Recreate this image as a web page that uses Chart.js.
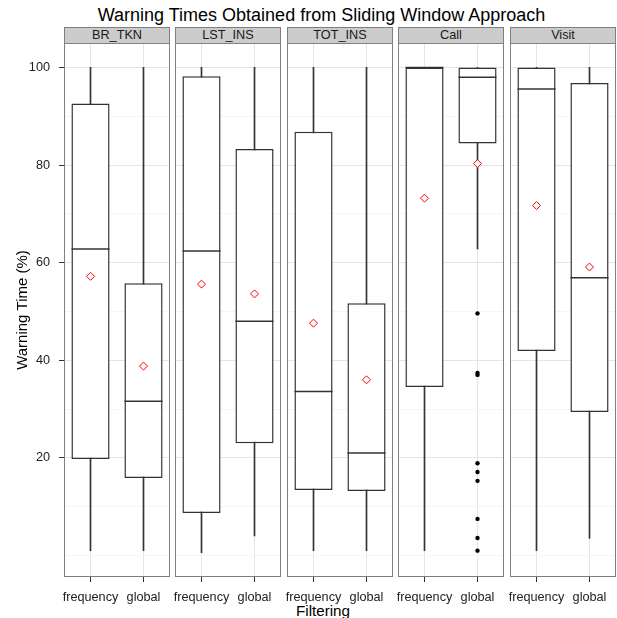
<!DOCTYPE html>
<html>
<head>
<meta charset="utf-8">
<script src="https://cdn.jsdelivr.net/npm/chart.js@4"></script>
<style>
body { margin: 0; width: 617px; height: 618px; overflow: hidden; background: #fff; position: relative;
       font-family: "Liberation Sans", Arial, sans-serif; }
.txt { position: absolute; text-align: center; white-space: nowrap; }
.strip { position: absolute; top: 27px; height: 17px; box-sizing: border-box; background: #cccccc;
         border: 1px solid #7f7f7f; text-align: center; font-size: 12.7px; line-height: 15px; color: #1a1a1a; }
canvas { position: absolute; }
</style>
</head>
<body>
<div class="txt" style="left:0;width:643px;top:5.5px;font-size:18px;line-height:18px;color:#000">Warning Times Obtained from Sliding Window Approach</div>
<div class="txt" style="left:0;width:646px;top:603px;font-size:15.2px;line-height:15px;color:#000">Filtering</div>
<script>
// facets and groups
const panels = ['BR_TKN', 'LST_INS', 'TOT_INS', 'Call', 'Visit'];
const filters = ['frequency', 'global'];

// box stats per panel: [frequency, global]
const whiskerLow  = [[1.0, 1.0], [0.6, 4.0], [1.0, 1.0], [1.0, 62.8], [1.0, 3.5]];
const q1          = [[19.8, 15.9], [8.7, 23.0], [13.4, 13.2], [34.5, 84.4], [41.9, 29.4]];
const median      = [[62.8, 31.6], [62.4, 48.0], [33.6, 21.0], [100, 98.0], [95.6, 56.9]];
const q3          = [[92.6, 55.8], [98.2, 83.3], [86.8, 51.7], [100, 100], [100, 96.8]];
const whiskerHigh = [[100, 100], [100, 100], [100, 100], [100, 100], [100, 100]];
const means       = [[57.2, 38.8], [55.6, 53.6], [47.6, 36.0], [73.2, 80.3], [71.7, 59.1]];
const outliers    = [[[], []], [[], []], [[], []],
                     [[], [49.6, 37.4, 37.0, 18.9, 17.1, 15.3, 7.5, 3.6, 1.0]], [[], []]];

const yGridValues = [0, 10, 20, 30, 40, 50, 60, 70, 80, 90, 100];
const yLabelValues = [20, 40, 60, 80, 100];

const FONT = '"Liberation Sans", Arial, sans-serif';
const panelLeft = [64, 175, 287, 398, 510];
const panelW = 106;
const pageW = 617;

const panelBorder = {
    id: 'panelBorder',
    afterDraw(chart) {
        const { ctx, chartArea: a } = chart;
        ctx.save();
        ctx.strokeStyle = '#7f7f7f';
        ctx.lineWidth = 1;
        ctx.strokeRect(a.left + 0.5, a.top + 0.5, a.width - 1, a.height - 1);
        ctx.restore();
    }
};

panels.forEach((name, k) => {
    const first = k === 0;

    const strip = document.createElement('div');
    strip.className = 'strip';
    strip.style.left = panelLeft[k] + 'px';
    strip.style.width = panelW + 'px';
    strip.textContent = name;
    document.body.appendChild(strip);

    // keep every canvas inside the page
    const padL = first ? 0 : 6;
    const padR = Math.min(6, pageW - panelLeft[k] - panelW);
    const cv = document.createElement('canvas');
    const left = first ? 0 : panelLeft[k] - padL;
    const width = (first ? panelLeft[0] : padL) + panelW + padR;
    cv.width = width;
    cv.height = 598;
    cv.style.left = left + 'px';
    cv.style.top = '20px';
    document.body.appendChild(cv);

    const pts = arr => filters.map((f, i) => ({ x: f, y: arr[k][i] }));
    const outPts = [];
    filters.forEach((f, i) => outliers[k][i].forEach(v => outPts.push({ x: f, y: v })));

    const datasets = [
        {
            label: 'whisker',
            data: filters.map((f, i) => [whiskerLow[k][i], whiskerHigh[k][i]]),
            backgroundColor: '#333333',
            barThickness: 1,
            grouped: false,
            order: 4
        },
        {
            label: 'box',
            data: filters.map((f, i) => [q1[k][i], q3[k][i]]),
            backgroundColor: '#ffffff',
            borderColor: '#333333',
            borderWidth: 1.5,
            borderSkipped: false,
            barPercentage: 0.72,
            categoryPercentage: 1,
            grouped: false,
            order: 3
        },
        {
            type: 'scatter',
            label: 'median',
            data: pts(median),
            pointStyle: 'line',
            pointRadius: 19,
            pointBorderWidth: 1.5,
            pointBorderColor: '#333333',
            pointBackgroundColor: '#333333',
            order: 2
        },
        {
            type: 'scatter',
            label: 'mean',
            data: pts(means),
            pointStyle: 'rectRot',
            pointRadius: 4,
            pointBorderWidth: 1,
            pointBorderColor: '#ff0000',
            pointBackgroundColor: '#ffffff',
            order: 1
        }
    ];
    if (outPts.length) {
        datasets.push({
            type: 'scatter',
            label: 'outliers',
            data: outPts,
            pointStyle: 'circle',
            pointRadius: 2.2,
            pointBorderWidth: 0,
            pointBorderColor: '#000000',
            pointBackgroundColor: '#000000',
            order: 0
        });
    }

    new Chart(cv, {
        type: 'bar',
        data: { labels: filters, datasets: datasets },
        options: {
            responsive: false,
            animation: false,
            events: [],
            layout: { autoPadding: false, padding: { top: 23, bottom: 0, left: padL, right: padR } },
            plugins: { legend: { display: false }, tooltip: { enabled: false } },
            scales: {
                x: {
                    type: 'category',
                    offset: true,
                    grid: { offset: false, color: '#e5e5e5', tickColor: '#333333', tickLength: 5, drawTicks: true },
                    border: { display: false },
                    ticks: {
                        font: { family: FONT, size: 12.7 }, color: '#222222',
                        padding: 8, maxRotation: 0, minRotation: 0, autoSkip: false
                    },
                    afterFit(scale) {
                        scale.height = 41;
                        scale.paddingLeft = 0;
                        scale.paddingRight = 0;
                    }
                },
                y: {
                    type: 'linear',
                    min: -4.4,
                    max: 105,
                    afterBuildTicks(scale) { scale.ticks = yGridValues.map(v => ({ value: v })); },
                    grid: {
                        color: c => yLabelValues.includes(c.tick.value) ? '#e5e5e5' : '#f5f5f5',
                        tickColor: c => yLabelValues.includes(c.tick.value) ? '#333333' : 'rgba(0,0,0,0)',
                        tickLength: 5,
                        drawTicks: first
                    },
                    border: { display: false },
                    ticks: {
                        display: first,
                        font: { family: FONT, size: 12.7 }, color: '#222222',
                        padding: 9,
                        callback: v => yLabelValues.includes(v) ? v : ''
                    },
                    title: {
                        display: first,
                        text: 'Warning Time (%)',
                        font: { family: FONT, size: 15 },
                        color: '#000000',
                        padding: { top: 14, bottom: 0 }
                    },
                    afterFit(scale) {
                        scale.width = first ? 64 : 0;
                        scale.paddingTop = 0;
                        scale.paddingBottom = 0;
                    }
                }
            }
        },
        plugins: [panelBorder]
    });
});
</script>
</body>
</html>
